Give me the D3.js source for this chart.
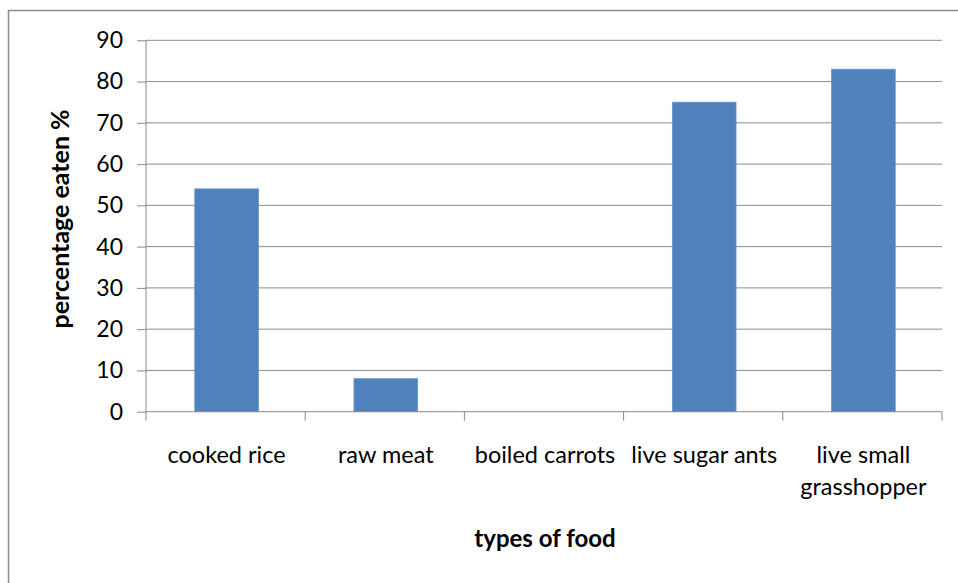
<!DOCTYPE html>
<html><head><meta charset="utf-8">
<script src="https://cdn.jsdelivr.net/npm/d3@7"></script>
<style>
html,body{margin:0;padding:0;background:#fff;}
svg{display:block;}
text{font-family:Lato,"Open Sans",sans-serif;fill:#000;}
</style></head>
<body>
<svg id="chart" width="958" height="583"></svg>
<script>
const categories = ["cooked rice", "raw meat", "boiled carrots", "live sugar ants", "live small|grasshopper"];
const values = [54, 8, 0, 75, 83];
const yTicks = [0, 10, 20, 30, 40, 50, 60, 70, 80, 90];
const xTitle = "types of food";
const yTitle = "percentage eaten %";

(function(){
const svg = d3.select("#chart");
const pL = 146, pR = 942, pT = 40.3, pB = 411.7;

svg.append("rect").attr("x", 8.5).attr("y", 10.5).attr("width", 980).attr("height", 600)
  .attr("fill", "#fff").attr("stroke", "#8c8c8c").attr("stroke-width", 1.5);

const x = d3.scaleBand().domain(categories).range([pL, pR]);
const y = d3.scaleLinear().domain([0, 90]).range([pB, pT]);

// gridlines
svg.append("g").selectAll("line").data(yTicks.filter(d => d > 0)).join("line")
  .attr("x1", pL).attr("x2", pR)
  .attr("y1", d => y(d)).attr("y2", d => y(d))
  .attr("stroke", "#8a8a8a").attr("stroke-width", 1);

// bars
const bw = x.bandwidth() * 0.4;
svg.append("g").selectAll("rect").data(values).join("rect")
  .attr("x", (d, i) => x(categories[i]) + (x.bandwidth() - bw) / 2 + 1)
  .attr("y", d => y(d))
  .attr("width", bw)
  .attr("height", d => y(0) - y(d))
  .attr("fill", "#4f81bd")
  .attr("stroke", d => d > 0 ? "#6b95c8" : "none").attr("stroke-width", 0.8);

// y axis
const yAxis = d3.axisLeft(y).tickValues(yTicks).tickSize(9).tickPadding(14);
const gy = svg.append("g").attr("transform", `translate(${pL},0)`).call(yAxis);
gy.selectAll("path,line").attr("stroke", "#8a8a8a");
gy.select(".domain").attr("d", `M0,${pT}V${pB}`);
gy.selectAll("text").attr("font-size", 23).attr("font-family", "Lato, sans-serif").attr("fill", "#000");

// x axis
const xAxis = d3.axisBottom(x).tickSize(0).tickFormat("");
const gx = svg.append("g").attr("transform", `translate(0,${pB})`).call(xAxis);
gx.select(".domain").attr("d", `M${pL},0H${pR}`).attr("stroke", "#8a8a8a");
const bounds = categories.map(c => x(c)).concat([pR]);
gx.selectAll(".bt").data(bounds).join("line").attr("class", "bt")
  .attr("x1", d => d).attr("x2", d => d).attr("y1", 0).attr("y2", 9)
  .attr("stroke", "#8a8a8a");

const lbl = svg.append("g").selectAll("text").data(categories).join("text")
  .attr("text-anchor", "middle").attr("font-size", 23.5).attr("fill", "#222")
  .attr("x", d => x(d) + x.bandwidth() / 2 + 1)
  .attr("y", 463);
lbl.each(function(d) {
  const parts = d.split("|");
  const t = d3.select(this);
  parts.forEach((p, i) => t.append("tspan").attr("x", t.attr("x")).attr("dy", i === 0 ? 0 : 32).text(p));
});

// titles
svg.append("text").attr("x", (pL + pR) / 2 + 1).attr("y", 547)
  .attr("text-anchor", "middle").attr("font-size", 24).attr("font-weight", "bold").text(xTitle);
svg.append("text").attr("transform", `translate(69,${(pT + pB) / 2 - 7}) rotate(-90)`)
  .attr("text-anchor", "middle").attr("font-size", 25).attr("font-weight", "bold").text(yTitle);
})();
</script>
</body></html>
